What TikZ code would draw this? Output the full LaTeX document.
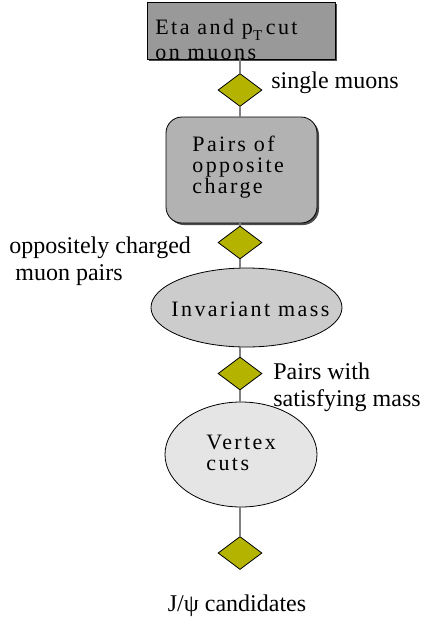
\documentclass[tikz,border=0pt]{standalone}
\usepackage{fontspec}
\setmainfont{Liberation Serif}
\newfontfamily\boxfont[LetterSpace=11]{Liberation Serif}
\usetikzlibrary{shapes.geometric}
\definecolor{olive}{HTML}{B3B300}
\definecolor{linkgray}{HTML}{808080}
\tikzset{
  flowline/.style={draw=linkgray, line width=0.6pt},
  junction/.style={diamond, draw=black, line width=0.4pt, fill=olive,
    minimum width=22pt, minimum height=16.5pt, inner sep=0pt},
  procbox/.style={draw=black, line width=0.4pt, inner sep=0pt},
  boxtext/.style={font=\boxfont\fontsize{11}{10.5}\selectfont, align=left, inner sep=0pt},
  note/.style={font=\fontsize{12}{13.5}\selectfont, align=left, inner sep=0pt},
}
\begin{document}
\begin{tikzpicture}[x=0.5pt, y=-0.5pt]
\useasboundingbox (0,0) rectangle (421,623);

% top selection box with its drop shadow
\fill[black!70] (149,4) rectangle (337,61);
\node[procbox, fill=black!40, minimum width=94pt, minimum height=28.5pt] (cut) at (241,30.5) {};
\node[boxtext, anchor=west, font=\boxfont\fontsize{11}{12.5}\selectfont] (cuttext) at (155,39)
  {Eta and p\raisebox{-3pt}{\fontsize{7.5}{7.5}\selectfont T}\,cut\\on muons};

\node[junction] (d1) at (240,90) {};
\node[note, anchor=west] (l1) at (271,83) {single muons};

% pairing step
\fill[black!70, rounded corners=8pt] (168,119) rectangle (319,225);
\node[procbox, rounded corners=8pt, fill=black!30, minimum width=75.5pt, minimum height=53pt,
      draw=black] (pairs) at (241.5,170) {};
\node[boxtext, anchor=west] (pairstext) at (192,167) {Pairs of\\opposite\\charge};

\node[junction] (d2) at (240,242.5) {};
\node[note, anchor=north west] (l2) at (9,236) {oppositely charged\\\ muon pairs};

% invariant mass step
\node[ellipse, draw=black, line width=0.4pt, fill=black!20, minimum width=95.5pt,
      minimum height=39.5pt, inner sep=0pt] (mass) at (246.5,307.5) {};
\node[boxtext, anchor=west] (masstext) at (171,309) {Invariant mass};

\node[junction] (d3) at (240,373.5) {};
\node[note, anchor=north west] (l3) at (273,362) {Pairs with\\satisfying mass};

% vertex step
\node[ellipse, draw=black, line width=0.4pt, fill=black!10, minimum width=76pt,
      minimum height=52.5pt, inner sep=0pt] (vertex) at (241,454.5) {};
\node[boxtext, anchor=west] (vertextext) at (206,453) {Vertex\\cuts};

\node[junction] (d4) at (240,553) {};
\node[note] (l4) at (237,606) {J/ψ candidates};

% connectors
\draw[flowline] (cut.south -| d1) -- (d1.north);
\draw[flowline] (d1.south) -- (d1.south |- pairs.north);
\draw[flowline] (d2.north |- pairs.south) -- (d2.north);
\draw[flowline] (d2.south) -- (d2.south |- mass.north);
\draw[flowline] (d3.north |- mass.south) -- (d3.north);
\draw[flowline] (d3.south) -- (d3.south |- vertex.north);
\draw[flowline] (d4.north |- vertex.south) -- (d4.north);
\end{tikzpicture}
\end{document}
